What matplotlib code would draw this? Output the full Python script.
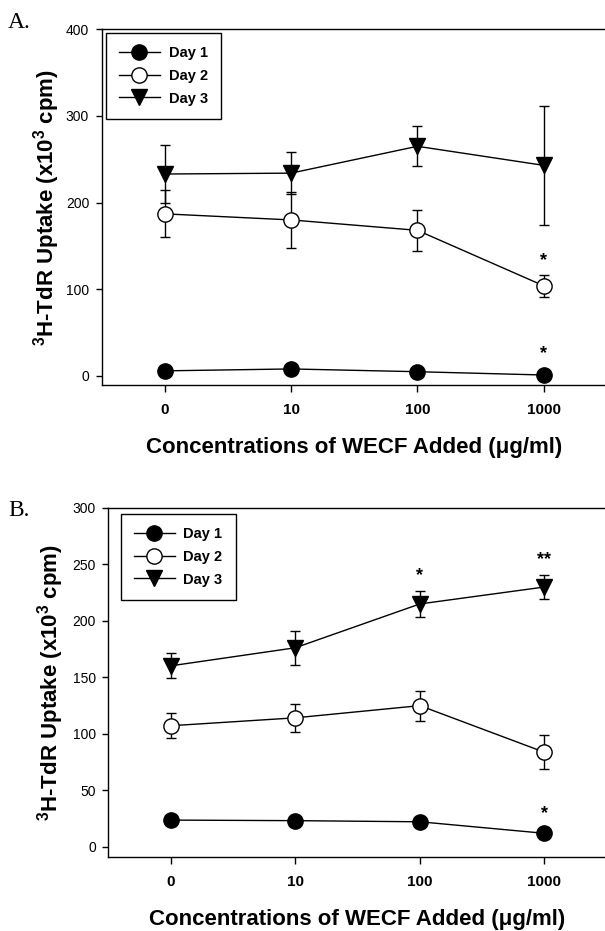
import matplotlib
matplotlib.use("Agg")
import matplotlib.pyplot as plt

plt.rcParams["font.family"] = ["Liberation Sans", "DejaVu Sans"]
plt.rcParams["mathtext.fontset"] = "custom"
plt.rcParams["mathtext.bf"] = "Liberation Sans:bold"
plt.rcParams["mathtext.rm"] = "Liberation Sans:bold"
plt.rcParams["mathtext.default"] = "bf"

# datos
conc_labels = ["0", "10", "100", "1000"]
xpos = [0, 1, 2, 3]

a_day1 = [5.8, 8.0, 4.8, 1.0]
a_day2 = [187, 180, 168, 104]
a_day2_err = [27, 32, 24, 12.7]
a_day3 = [233, 234, 265, 243]
a_day3_err = [33, 24, 23, 69]

b_day1 = [23.5, 23, 22, 11.8]
b_day2 = [107, 114, 124.8, 83.5]
b_day2_err = [11, 12.5, 13.2, 15]
b_day3 = [160, 176, 214.8, 229.8]
b_day3_err = [11, 15, 11.8, 10.6]

# (x, y, texto)
a_stars = [(3, 133.5, "*"), (3, 25.8, "*")]
b_stars = [(2, 239.6, "*"), (3, 254.3, "**"), (3, 29.5, "*")]

ylabel = r"$^{3}$H-TdR Uptake (x10$^{3}$ cpm)"
xlabel = "Concentrations of WECF Added (μg/ml)"

fig = plt.figure(figsize=(6.05, 9.31), dpi=100)


def panel(ax, d1, d2, e2, d3, e3, stars, ylim, yticks, leg_xy, ylab_x, xlab_y):
    ms = 11
    # barras de error sin marcador, las lineas van aparte para la leyenda
    ax.errorbar(xpos, d3, yerr=e3, fmt="none", ecolor="black", elinewidth=1.0,
                capsize=3.5, capthick=1.0, zorder=2)
    ax.errorbar(xpos, d2, yerr=e2, fmt="none", ecolor="black", elinewidth=1.0,
                capsize=3.5, capthick=1.0, zorder=2)
    l1, = ax.plot(xpos, d1, color="black", marker="o", markersize=ms,
                  markerfacecolor="black", linewidth=1.0, zorder=3)
    l2, = ax.plot(xpos, d2, color="black", marker="o", markersize=ms,
                  markerfacecolor="white", markeredgewidth=1.0, linewidth=1.0, zorder=3)
    l3, = ax.plot(xpos, d3, color="black", marker="v", markersize=ms,
                  markerfacecolor="black", linewidth=1.0, zorder=3)

    for x, y, s in stars:
        ax.text(x, y, s, ha="center", va="center", fontsize=13, fontweight="bold")

    ax.set_xlim(-0.5, 3.5)
    ax.set_ylim(*ylim)
    ax.set_xticks(xpos)
    ax.set_xticklabels(conc_labels, fontsize=11, fontweight="bold")
    ax.set_yticks(yticks)
    ax.tick_params(axis="y", labelsize=10, length=4, width=1, pad=5)
    ax.tick_params(axis="x", length=5, width=1, pad=8)
    for sp in ["left", "bottom", "top"]:
        ax.spines[sp].set_linewidth(1.0)
    ax.spines["right"].set_visible(False)

    ax.set_xlabel(xlabel, fontsize=16, fontweight="bold")
    ax.xaxis.set_label_coords(0.5, xlab_y)
    ax.set_ylabel(ylabel, fontsize=16, fontweight="bold")
    ax.yaxis.set_label_coords(ylab_x, 0.5)

    leg = ax.legend([l1, l2, l3], ["Day 1", "Day 2", "Day 3"],
                    loc="upper left", bbox_to_anchor=leg_xy, borderaxespad=0,
                    fancybox=False, framealpha=1, edgecolor="black",
                    prop={"weight": "bold", "size": 10.5}, handlelength=2.8,
                    handletextpad=0.6, labelspacing=0.6, borderpad=0.9)
    leg.get_frame().set_linewidth(1.0)


axA = fig.add_axes([0.168, 0.5865, 0.835, 0.382])
panel(axA, a_day1, a_day2, a_day2_err, a_day3, a_day3_err, a_stars,
      (-10.5, 400), [0, 100, 200, 300, 400], (0.0085, 0.99), -0.078, -0.145)

axB = fig.add_axes([0.179, 0.0792, 0.824, 0.3755])
panel(axB, b_day1, b_day2, b_day2_err, b_day3, b_day3_err, b_stars,
      (-9.4, 300), [0, 50, 100, 150, 200, 250, 300], (0.0247, 0.982), -0.085, -0.148)

fig.text(8 / 605, 1 - 28 / 931, "A.", fontsize=17, family="Liberation Serif",
         ha="left", va="baseline")
fig.text(8 / 605, 1 - 516 / 931, "B.", fontsize=17, family="Liberation Serif",
         ha="left", va="baseline")

fig.savefig("out.png", dpi=100)
